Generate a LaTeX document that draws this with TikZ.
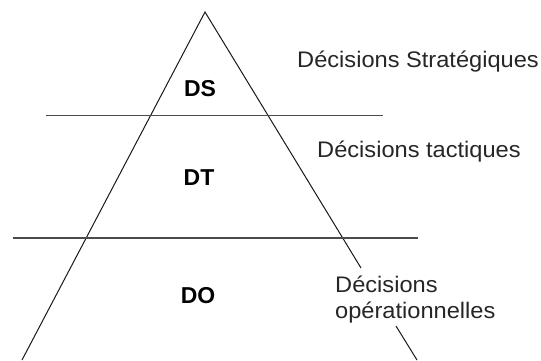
\documentclass[tikz,border=0pt]{standalone}
\usepackage{fontspec}
\setmainfont{Liberation Sans}
\newfontfamily\labfont[FakeStretch=1.05]{Liberation Sans}
\begin{document}
\begin{tikzpicture}[x=1pt,y=-1pt,
  side/.style={draw=black!90, line width=1pt},
  level/.style={draw=black!70, line width=1.8pt},
  zone/.style={inner sep=0pt, anchor=base, font=\fontsize{23}{27}\selectfont\bfseries, text=black},
  desc/.style={inner sep=0pt, anchor=base west, font=\labfont\fontsize{22.5}{26}\selectfont, text=black!85}]
\useasboundingbox (0,0) rectangle (541,360);
% triangle
\coordinate (apex) at (205,12);
\coordinate (bl) at (22,360);
\coordinate (rtop) at (361,268);
\coordinate (rbot) at (396,326);
\coordinate (br) at (417,360);
\draw[side] (bl) -- (apex) -- (rtop);
\draw[side] (rbot) -- (br);
% level lines
\coordinate (u1) at (46,115.5);
\coordinate (u2) at (383,115.5);
\coordinate (l1) at (13,238);
\coordinate (l2) at (418,238);
\draw[level] (u1) -- (u2);
\draw[level] (l1) -- (l2);
% zone labels
\node[zone] (ds) at (200,96) {DS};
\node[zone] (dt) at (199,185) {DT};
\node[zone] (do) at (198,303) {DO};
% descriptions
\node[desc] (strat) at (297,67) {Décisions Stratégiques};
\node[desc] (tact) at (317,157) {Décisions tactiques};
\node[desc] (op1) at (335,292) {Décisions};
\node[desc] (op2) at (335,318) {opérationnelles};
\end{tikzpicture}
\end{document}
